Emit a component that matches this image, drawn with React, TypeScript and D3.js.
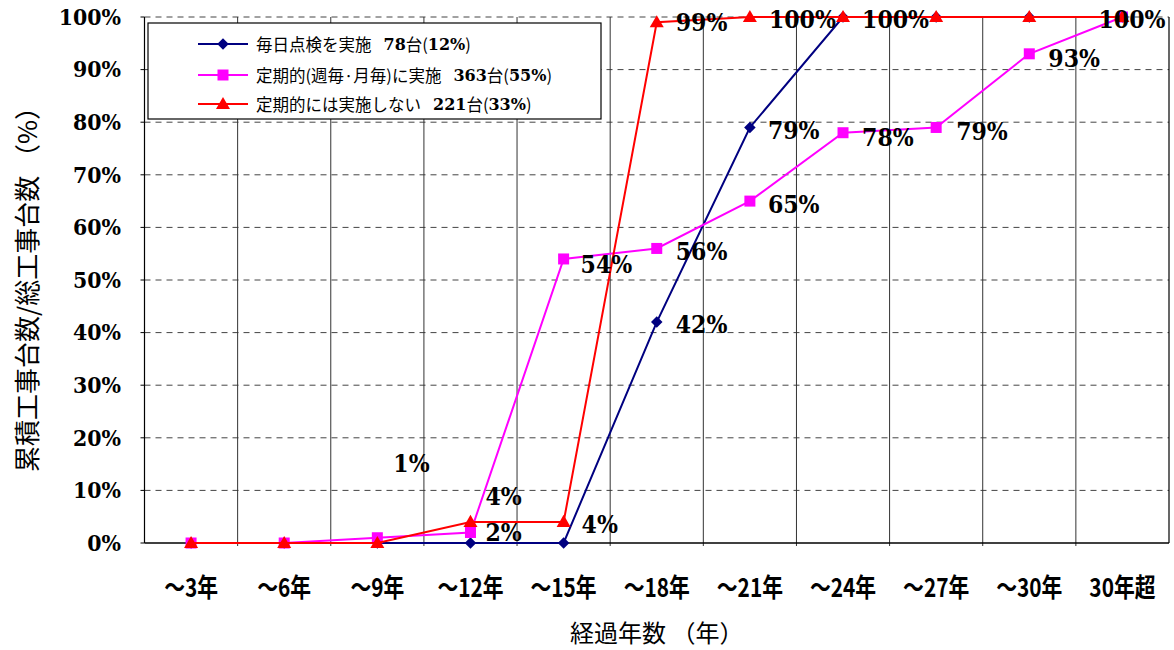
import React from "react";
import * as d3 from "d3";

// Elapsed-years buckets on the x axis
const categories = ["～3年", "～6年", "～9年", "～12年", "～15年", "～18年", "～21年", "～24年", "～27年", "～30年", "30年超"];

// Cumulative share (%) of works per inspection practice
const dailyCheck = [0, 0, 0, 0, 0, 42, 79, 100, 100, 100, 100];
const periodicCheck = [0, 0, 1, 2, 54, 56, 65, 78, 79, 93, 100];
const noPeriodicCheck = [0, 0, 0, 4, 4, 99, 100, 100, 100, 100, 100];

const yTicks = [0, 10, 20, 30, 40, 50, 60, 70, 80, 90, 100];

const seriesNames = ["毎日点検を実施", "定期的(週毎·月毎)に実施", "定期的には実施しない"];
const seriesCounts = ["78", "363", "221"];
const seriesShares = ["12%", "55%", "33%"];
const seriesColors = ["#000080", "#FF00FF", "#FF0000"];
const seriesShapes = ["diamond", "square", "triangle"];

// Value labels: which series / category, and the label's offset from its point
const valueLabels = [
  { s: 2, i: 3, dx: 15, dy: -26 },
  { s: 1, i: 2, dx: 16, dy: -75 },
  { s: 1, i: 3, dx: 15, dy: 0 },
  { s: 2, i: 4, dx: 18, dy: 2 },
  { s: 1, i: 4, dx: 17, dy: 5 },
  { s: 0, i: 5, dx: 19, dy: 2 },
  { s: 1, i: 5, dx: 19, dy: 3 },
  { s: 2, i: 5, dx: 19, dy: 0 },
  { s: 0, i: 6, dx: 18, dy: 3 },
  { s: 1, i: 6, dx: 18, dy: 3 },
  { s: 2, i: 6, dx: 19, dy: 2 },
  { s: 2, i: 7, dx: 19, dy: 2 },
  { s: 1, i: 7, dx: 19, dy: 4 },
  { s: 1, i: 8, dx: 20, dy: 4 },
  { s: 1, i: 9, dx: 19, dy: 4 },
  { s: 2, i: 10, dx: -24, dy: 2 },
];

const W = 1174;
const H = 650;
const plot = { left: 144.5, right: 1169, top: 17, bottom: 543 };

const SERIF = "'DejaVu Serif', serif";
const GOTHIC = "'Noto Sans CJK JP', sans-serif";

function Marker({ shape, x, y, color }: { shape: string; x: number; y: number; color: string }) {
  if (shape === "diamond") {
    const p = d3.symbol(d3.symbolDiamond2, 85)();
    return <path d={p || ""} transform={`translate(${x},${y})`} fill={color} />;
  }
  if (shape === "square") {
    return <rect x={x - 5.5} y={y - 5.5} width={11} height={11} fill={color} />;
  }
  const t = d3.symbol(d3.symbolTriangle, 85)();
  return <path d={t || ""} transform={`translate(${x},${y + 1})`} fill={color} />;
}

export default function App() {
  const series = [dailyCheck, periodicCheck, noPeriodicCheck];
  const x = d3.scaleBand<string>().domain(categories).range([plot.left, plot.right]).paddingInner(0).paddingOuter(0);
  const y = d3.scaleLinear().domain([0, 100]).range([plot.bottom, plot.top]);
  const cx = (i: number) => (x(categories[i]) as number) + x.bandwidth() / 2;
  const line = d3
    .line<number>()
    .x((_, i) => cx(i))
    .y((v) => y(v));

  const boundaries = categories.slice(1).map((c) => x(c) as number);

  const legendRows = [44, 75, 104];

  return (
    <svg
      width={W}
      height={H}
      style={{ position: "absolute", left: 0, top: 0, background: "#fff" }}
      xmlns="http://www.w3.org/2000/svg"
    >
      <rect x={0} y={0} width={W} height={H} fill="#fff" />

      {/* horizontal dashed gridlines */}
      {yTicks.slice(1).map((t) => (
        <line
          key={"h" + t}
          x1={plot.left}
          x2={plot.right}
          y1={y(t)}
          y2={y(t)}
          stroke="#444"
          strokeWidth={1}
          strokeDasharray="6,5"
        />
      ))}

      {/* vertical category separators */}
      {boundaries.map((bx, k) => (
        <line key={"v" + k} x1={bx} x2={bx} y1={plot.top} y2={plot.bottom + 3} stroke="#333" strokeWidth={1} />
      ))}

      {/* axes */}
      <line x1={plot.left} x2={plot.left} y1={plot.top} y2={plot.bottom} stroke="#000" strokeWidth={1.2} />
      <line x1={plot.right} x2={plot.right} y1={plot.top} y2={plot.bottom} stroke="#000" strokeWidth={1.2} />
      <line x1={plot.left} x2={plot.right} y1={plot.bottom} y2={plot.bottom} stroke="#000" strokeWidth={1.5} />
      {yTicks.map((t) => (
        <line key={"t" + t} x1={plot.left - 4} x2={plot.left} y1={y(t)} y2={y(t)} stroke="#000" strokeWidth={1} />
      ))}

      {/* y tick labels */}
      {yTicks.map((t) => (
        <text
          key={"yl" + t}
          transform={`translate(121,${y(t)}) scale(1,1.08)`}
          textAnchor="end"
          dominantBaseline="central"
          fontFamily={SERIF}
          fontWeight="bold"
          fontSize={20.5}
          fill="#000"
        >
          {t}%
        </text>
      ))}

      {/* x tick labels */}
      {categories.map((c, i) => (
        <text
          key={"xl" + c}
          transform={`translate(${cx(i)},${586}) scale(0.8,1)`}
          textAnchor="middle"
          dominantBaseline="central"
          fontFamily={GOTHIC}
          fontWeight="bold"
          fontSize={26}
          fill="#000"
        >
          {c}
        </text>
      ))}

      {/* axis titles */}
      <text
        x={(plot.left + plot.right) / 2}
        y={631}
        textAnchor="middle"
        dominantBaseline="central"
        fontFamily={GOTHIC}
        fontSize={24}
        fill="#000"
      >
        経過年数 （年）
      </text>
      <text
        transform={`translate(25,${283}) rotate(-90)`}
        textAnchor="middle"
        dominantBaseline="central"
        fontFamily={GOTHIC}
        fontSize={26}
        fill="#000"
      >
        累積工事台数/総工事台数 （%）
      </text>

      {/* series lines and markers */}
      {series.map((vals, s) => (
        <g key={"s" + s}>
          <path d={line(vals) || ""} fill="none" stroke={seriesColors[s]} strokeWidth={2} />
          {vals.map((v, i) => (
            <Marker key={i} shape={seriesShapes[s]} x={cx(i)} y={y(v)} color={seriesColors[s]} />
          ))}
        </g>
      ))}

      {/* value labels */}
      {valueLabels.map((l, k) => {
        const v = series[l.s][l.i];
        return (
          <text
            key={"vl" + k}
            transform={`translate(${cx(l.i) + l.dx},${y(v) + l.dy}) scale(0.92,1)`}
            dominantBaseline="central"
            fontFamily={SERIF}
            fontWeight="bold"
            fontSize={24}
            fill="#000"
          >
            {v}%
          </text>
        );
      })}

      {/* legend */}
      <rect x={148} y={23} width={453} height={96} fill="#fff" stroke="#000" strokeWidth={1.2} />
      {seriesNames.map((name, s) => (
        <g key={"lg" + s}>
          <line x1={198} x2={248} y1={legendRows[s]} y2={legendRows[s]} stroke={seriesColors[s]} strokeWidth={2} />
          <Marker shape={seriesShapes[s]} x={223} y={legendRows[s]} color={seriesColors[s]} />
          <text x={256} y={legendRows[s]} dominantBaseline="central" fontSize={16.5} fill="#000" fontFamily={GOTHIC}>
            <tspan>{name}</tspan>
            <tspan dx={12} fontFamily={SERIF} fontWeight="bold" fontSize={16}>
              {seriesCounts[s]}
            </tspan>
            <tspan>台(</tspan>
            <tspan fontFamily={SERIF} fontWeight="bold" fontSize={16}>
              {seriesShares[s]}
            </tspan>
            <tspan>)</tspan>
          </text>
        </g>
      ))}
    </svg>
  );
}
